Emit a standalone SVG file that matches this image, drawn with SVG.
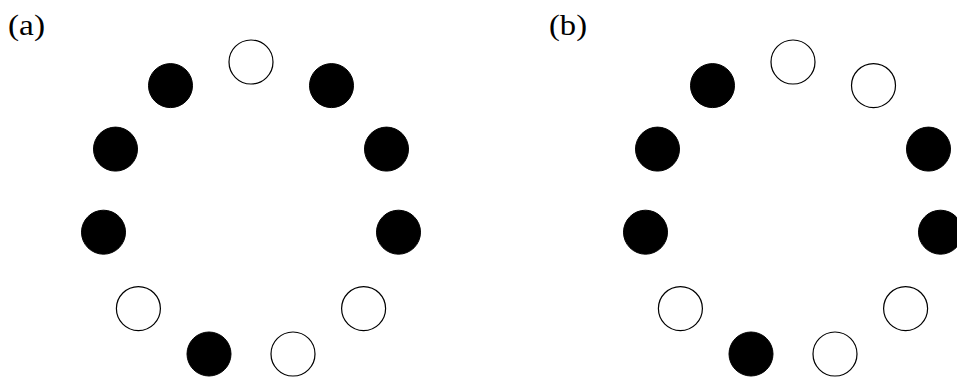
<svg xmlns="http://www.w3.org/2000/svg" width="957" height="379" viewBox="0 0 957 379">
<style>
.lbl{font-family:"Liberation Serif","DejaVu Serif",serif;font-size:30px;fill:#000}
.w{fill:#fff;stroke:#000;stroke-width:1.2}
.b{fill:#000;stroke:#000;stroke-width:1}
</style>
<rect width="957" height="379" fill="#fff"/>
<text class="lbl" x="8" y="35" textLength="37" lengthAdjust="spacingAndGlyphs">(a)</text>
<text class="lbl" x="549" y="35" textLength="38" lengthAdjust="spacingAndGlyphs">(b)</text>
<g id="ringA">
<circle id="a0" class="w" cx="251" cy="62" r="22"/>
<circle id="a1" class="b" cx="331.5" cy="85.6" r="22"/>
<circle id="a2" class="b" cx="386.5" cy="149.1" r="22"/>
<circle id="a3" class="b" cx="398.5" cy="232.2" r="22"/>
<circle id="a4" class="w" cx="363.6" cy="308.6" r="22"/>
<circle id="a5" class="w" cx="293" cy="354" r="22"/>
<circle id="a6" class="b" cx="209" cy="354" r="22"/>
<circle id="a7" class="w" cx="138.4" cy="308.6" r="22"/>
<circle id="a8" class="b" cx="103.5" cy="232.2" r="22"/>
<circle id="a9" class="b" cx="115.5" cy="149.1" r="22"/>
<circle id="a10" class="b" cx="170.5" cy="85.6" r="22"/>
</g>
<g id="ringB" transform="translate(542,0)">
<circle id="b0" class="w" cx="251" cy="62" r="22"/>
<circle id="b1" class="w" cx="331.5" cy="85.6" r="22"/>
<circle id="b2" class="b" cx="386.5" cy="149.1" r="22"/>
<circle id="b3" class="b" cx="398.5" cy="232.2" r="22"/>
<circle id="b4" class="w" cx="363.6" cy="308.6" r="22"/>
<circle id="b5" class="w" cx="293" cy="354" r="22"/>
<circle id="b6" class="b" cx="209" cy="354" r="22"/>
<circle id="b7" class="w" cx="138.4" cy="308.6" r="22"/>
<circle id="b8" class="b" cx="103.5" cy="232.2" r="22"/>
<circle id="b9" class="b" cx="115.5" cy="149.1" r="22"/>
<circle id="b10" class="b" cx="170.5" cy="85.6" r="22"/>
</g>
<g id="connectors"/>
</svg>
